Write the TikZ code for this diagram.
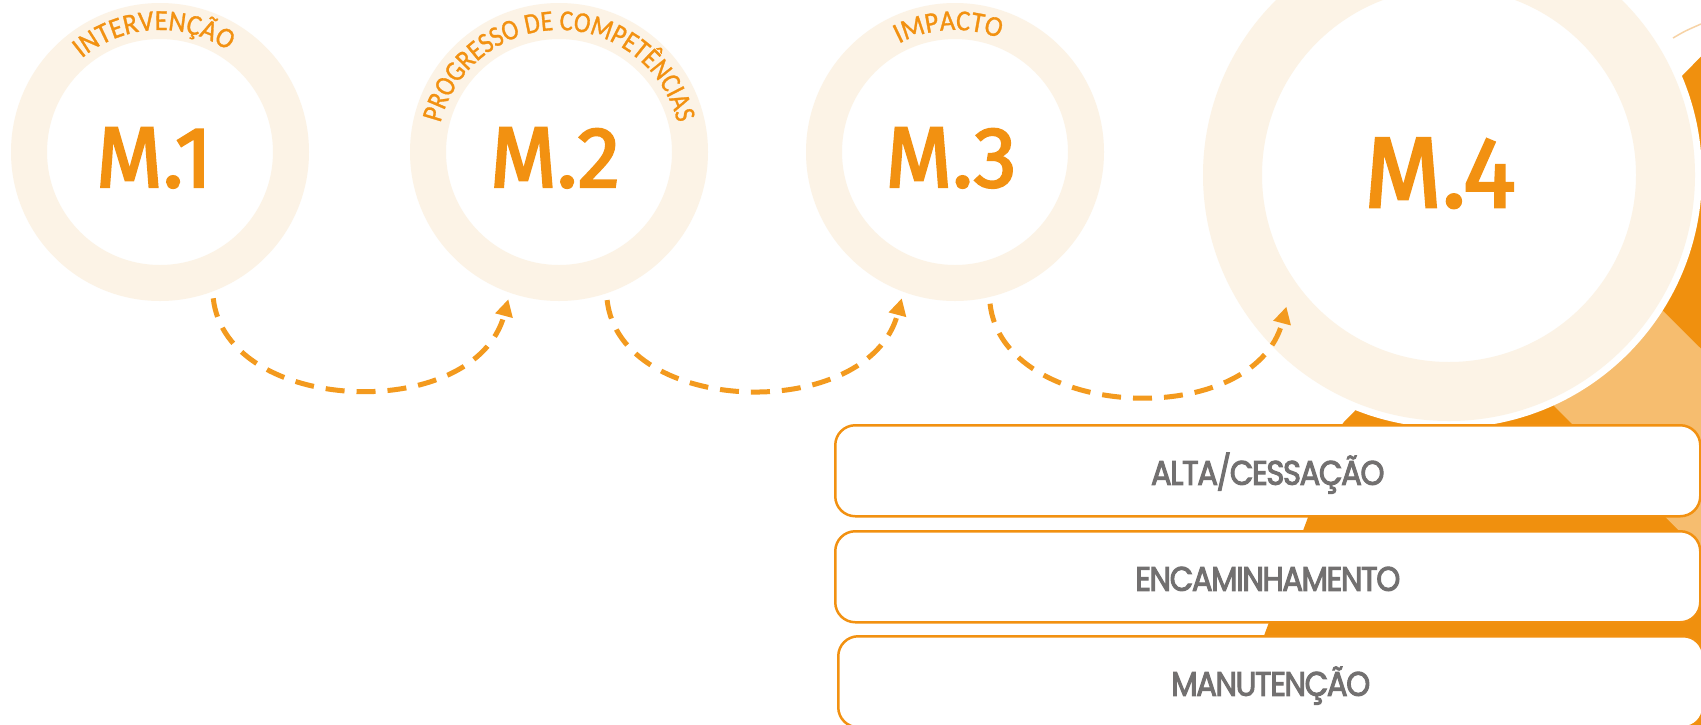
\documentclass[tikz,border=0pt]{standalone}
\usepackage{fontspec}
\setmainfont{Poppins}
\newfontfamily\arcfont{Carlito}[FakeStretch=0.92,FakeBold=1]
\newfontfamily\arcfontnarrow{Carlito}[FakeStretch=0.86,FakeBold=1]
\newfontfamily\mfont{Fira Sans}[FakeBold=2.5]
\newfontfamily\boxfont{Poppins}[FakeStretch=0.9,LetterSpace=-4,FakeBold=3]
\usetikzlibrary{arrows.meta,decorations.text,calc}
\definecolor{mOrange}{HTML}{F29111}
\definecolor{lineOrange}{HTML}{F39A1E}
\definecolor{ringCream}{HTML}{FCF3E6}
\definecolor{stripeOrange}{HTML}{F6BD6F}
\definecolor{darkOrange}{HTML}{F0900E}
\definecolor{labelGrey}{HTML}{727070}
\definecolor{thinArc}{HTML}{F7D3A6}
\begin{document}
\begin{tikzpicture}[x=1pt,y=-1pt,
  ringmark/.style={circle,inner sep=0pt,minimum size=311pt},
  bigringmark/.style={circle,inner sep=0pt,minimum size=418pt},
  mlabel/.style={text=mOrange,font=\mfont\fontsize{86}{86}\selectfont,anchor=base,inner sep=0pt},
  biglabel/.style={text=mOrange,font=\mfont\fontsize{100}{100}\selectfont,anchor=base,inner sep=0pt},
  optionbox/.style={draw=mOrange,line width=2.5pt,fill=white,rounded corners=20pt,
    minimum width=865pt,minimum height=91pt,anchor=north west,inner sep=0pt,
    text=labelGrey,font=\boxfont\fontsize{34}{34}\selectfont,text height=28pt,text depth=0pt},
  flowarrow/.style={draw=lineOrange,line width=5pt,dash pattern=on 19pt off 12pt,
    -{Triangle[length=17pt,width=17pt]}},
  arctext/.style={decorate,decoration={text along path,text align=center,
    text={|\arcfont\fontsize{29}{29}\selectfont\color{mOrange}|#1}}},
  arctextnarrow/.style={decorate,decoration={text along path,text align=center,
    text={|\arcfontnarrow\fontsize{29}{29}\selectfont\color{mOrange}|#1}}}
]
\fill[white] (0,0) rectangle (1701,724);
\useasboundingbox (0,0) rectangle (1701,724);
\clip (0,0) rectangle (1701,724);

% anchor nodes for the four rings
\node[ringmark] (k1) at (160,152) {};
\node[ringmark] (k2) at (559,152) {};
\node[ringmark] (k3) at (955,152) {};
\node[bigringmark] (k4) at (1449,175) {};

% orange background shapes on the right
\fill[darkOrange] (1343,423) -- (1766,-10) -- (1800,-10) -- (1800,800) -- (1203,800) -- cycle;
\fill[stripeOrange] (1453,305) -- (1555,203) -- (2153,800) -- (1949,800) -- cycle;
\draw[thinArc,line width=1.5pt] (1673,38) .. controls (1685,31) .. (1701,24);

% big ring M.4
\fill[white] (k4.center) circle[radius=253];
\fill[ringCream,even odd rule] (k4.center) circle[radius=246] (k4.center) circle[radius=187];

% small rings
\fill[ringCream,even odd rule] (k1.center) circle[radius=149] (k1.center) circle[radius=113];
\fill[ringCream,even odd rule] (k2.center) circle[radius=149] (k2.center) circle[radius=113];
\fill[ringCream,even odd rule] (k3.center) circle[radius=149] (k3.center) circle[radius=113];

% curved labels
\path[arctext={INTERVENÇÃO}] (k1.center) ++(-150:122) arc[start angle=-150,end angle=-36,radius=122];
\path[arctextnarrow={PROGRESSO DE COMPETÊNCIAS}] (k2.center) ++(-181:122) arc[start angle=-181,end angle=1,radius=122];
\path[arctext={IMPACTO}] (k3.center) ++(-130:122) arc[start angle=-130,end angle=-56,radius=122];

% main labels
\node[mlabel] (m1) at (154,187) {M.1};
\node[mlabel] (m2) at (555,187) {M.2};
\node[mlabel] (m3) at (951,187) {M.3};
\node[biglabel] (m4) at (1440,207) {M.4};

% dashed connectors
\draw[flowarrow] (k1.-70.4) .. controls +(13,117) and +(-33,125) .. (k2.-109);
\draw[flowarrow] (k2.-72.5) .. controls +(13,117) and +(-33,125) .. (k3.-110);
\draw[flowarrow] (k3.-77.7) .. controls +(13,117) and +(-33,125) .. (k4.-141.6);

% option boxes
\node[optionbox] (b1) at (834,424) {ALTA/CESSAÇÃO};
\node[optionbox] (b2) at (834,530) {ENCAMINHAMENTO};
\node[optionbox] (b3) at (837,635) {MANUTENÇÃO};
\end{tikzpicture}
\end{document}
